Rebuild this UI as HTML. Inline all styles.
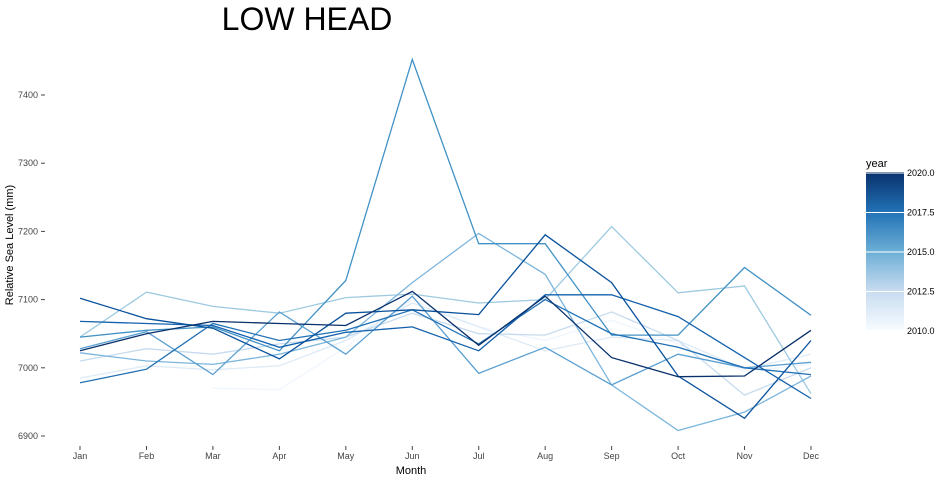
<!DOCTYPE html>
<html><head><meta charset="utf-8"><style>
body{margin:0;background:#fff;font-family:"Liberation Sans",sans-serif;}
</style></head><body>
<svg id="c" width="940" height="480" xmlns="http://www.w3.org/2000/svg">
<defs><linearGradient id="g" x1="0" y1="1" x2="0" y2="0"><stop offset="0" stop-color="#f7fbff"/><stop offset="0.25" stop-color="#c6dbef"/><stop offset="0.5" stop-color="#6baed6"/><stop offset="0.75" stop-color="#2171b5"/><stop offset="1" stop-color="#08306b"/></linearGradient></defs>
<text x="307" y="30" font-size="32" text-anchor="middle" fill="#000">LOW HEAD</text>
<text x="411" y="474" font-size="11" text-anchor="middle" fill="#000">Month</text>
<text transform="translate(13,245) rotate(-90)" font-size="11" text-anchor="middle" fill="#000">Relative Sea Level (mm)</text>
<g id="ax"></g><g id="lines"></g>
<text x="866" y="167" font-size="11">year</text>
<rect x="866" y="172" width="38" height="158" fill="url(#g)"/>
<g id="leg"></g>
</svg>
<script>
const months=["Jan","Feb","Mar","Apr","May","Jun","Jul","Aug","Sep","Oct","Nov","Dec"];
const yTicks=[6900,7000,7100,7200,7300,7400];
const years=[2010,2011,2012,2013,2014,2015,2016,2017,2018,2019,2020];
const s2010=[null,null,6970,6968,7030,7100,7060,7040,7070,7035,6995,7005];
const s2011=[6985,7003,6997,7003,7040,7095,7060,7025,7045,7040,6998,7020];
const s2012=[7010,7028,7020,7035,7045,7080,7050,7048,7082,7040,6960,7000];
const s2013=[7045,7111,7090,7080,7103,7108,7095,7100,7207,7110,7120,6962];
const s2014=[7022,7010,7005,7020,7045,7125,7197,7137,6975,6908,6935,6988];
const s2015=[7028,7053,6990,7082,7020,7105,6992,7030,6975,7020,7000,7008];
const s2016=[7045,7055,7060,7025,7128,7452,7182,7182,7048,7048,7147,7077];
const s2017=[6978,6998,7065,7040,7055,7085,7035,7100,7050,7030,7000,6990];
const s2018=[7068,7065,7062,7030,7052,7060,7025,7107,7107,7075,7015,6955];
const s2019=[7102,7072,7058,7013,7080,7085,7078,7195,7125,6988,6926,7040];
const s2020=[7025,7050,7068,7065,7062,7112,7033,7105,7015,6987,6988,7055];
const series=[s2010,s2011,s2012,s2013,s2014,s2015,s2016,s2017,s2018,s2019,s2020];
const colors=["#f0f6fd","#deebf7","#c6dbef","#9ecae1","#7cb6dd","#5a9fd1","#4292c6","#2171b5","#1361ad","#08519c","#08306b"];
const legLabels=["2020.0","2017.5","2015.0","2012.5","2010.0"];
const NS="http://www.w3.org/2000/svg";
const x=i=>80+i*(811-80)/11;
const y=v=>436-(v-6900)*(436-95)/500;
const ax=document.getElementById('ax');
yTicks.forEach(t=>{
 const tx=document.createElementNS(NS,'text');
 
 
 tx.setAttribute('x',38);tx.setAttribute('y',y(t)+3);tx.setAttribute('font-size','9');tx.setAttribute('text-anchor','end');tx.setAttribute('fill','#444');
 tx.textContent=t;ax.appendChild(tx);
 const tk=document.createElementNS(NS,'line');
 
 
 tk.setAttribute('x1',41);tk.setAttribute('x2',45);tk.setAttribute('y1',y(t));tk.setAttribute('y2',y(t));tk.setAttribute('stroke','#444');
 ax.appendChild(tk);
});
months.forEach((m,i)=>{
 const tx=document.createElementNS(NS,'text');
 
 
 tx.setAttribute('x',x(i));tx.setAttribute('y',459);tx.setAttribute('font-size','9');tx.setAttribute('text-anchor','middle');tx.setAttribute('fill','#444');
 tx.textContent=m;ax.appendChild(tx);
 const tk=document.createElementNS(NS,'line');
 
 
 tk.setAttribute('x1',x(i));tk.setAttribute('x2',x(i));tk.setAttribute('y1',446);tk.setAttribute('y2',450);tk.setAttribute('stroke','#444');
 ax.appendChild(tk);
});
const lg=document.getElementById('lines');
series.forEach((s,k)=>{
 let d='',pen=false;
 s.forEach((v,i)=>{if(v==null){pen=false;return;}d+=(pen?'L':'M')+x(i).toFixed(1)+','+y(v).toFixed(1);pen=true;});
 const p=document.createElementNS(NS,'path');
 
 
 p.setAttribute('d',d);p.setAttribute('fill','none');p.setAttribute('stroke',colors[k]);p.setAttribute('stroke-width','1.3');
 lg.appendChild(p);
});
const leg=document.getElementById('leg');
legLabels.forEach((l,i)=>{
 const yy=173+i*(331-173)/4;
 const tx=document.createElementNS(NS,'text');
 
 
 tx.setAttribute('x',907);tx.setAttribute('y',yy+3);tx.setAttribute('font-size','9');tx.setAttribute('fill','#000');
 tx.textContent=l;leg.appendChild(tx);
 const tk=document.createElementNS(NS,'line');
 
 
 tk.setAttribute('x1',866);tk.setAttribute('x2',904);tk.setAttribute('y1',yy);tk.setAttribute('y2',yy);tk.setAttribute('stroke','#fff');
 leg.appendChild(tk);
});
</script>
</body></html>
